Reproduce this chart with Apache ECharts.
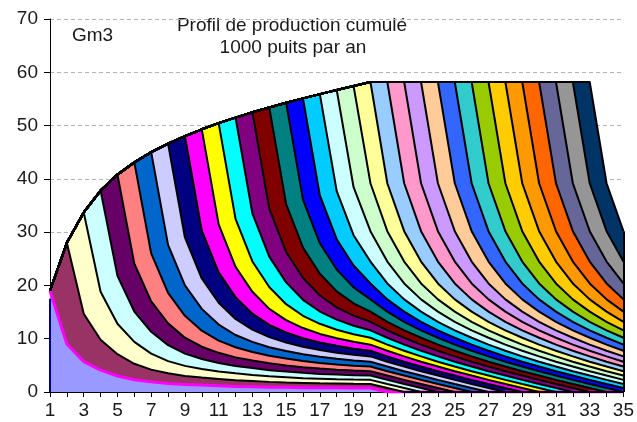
<!DOCTYPE html>
<html>
<head>
<meta charset="utf-8">
<script src="https://cdn.jsdelivr.net/npm/echarts@6/dist/echarts.min.js"></script>
<style>
  html, body { margin: 0; padding: 0; background: #fff; }
  #chart { width: 637px; height: 422px; }
</style>
</head>
<body>
<div id="chart"></div>
<script>
// Years on the horizontal axis
const years = [1, 2, 3, 4, 5, 6, 7, 8, 9, 10, 11, 12, 13, 14, 15, 16, 17, 18, 19, 20,
               21, 22, 23, 24, 25, 26, 27, 28, 29, 30, 31, 32, 33, 34, 35];
// Yearly output of one batch of 1000 wells, by age of the batch (Gm3)
const ageProfile = [19, 9, 5.7, 4.1, 3.0, 2.3, 1.9, 1.6, 1.4, 1.3,
                    1.15, 1.05, 1.0, 0.9, 0.88, 0.82, 0.8, 0.78, 0.75, 0.75];
// First production year of each batch
const startYears = [1, 2, 3, 4, 5, 6, 7, 8, 9, 10, 11, 12, 13, 14, 15, 16, 17,
                    18, 19, 20, 21, 22, 23, 24, 25, 26, 27, 28, 29, 30, 31, 32, 33];
const yTicks = [0, 10, 20, 30, 40, 50, 60, 70];

// Fill colours, one per batch
const palette = ['#9999FF', '#993366', '#FFFFCC', '#CCFFFF', '#660066', '#FF8080', '#0066CC',
  '#CCCCFF', '#000080', '#FF00FF', '#FFFF00', '#00FFFF', '#800080', '#800000', '#008080',
  '#0000FF', '#00CCFF', '#CCFFFF', '#CCFFCC', '#FFFF99', '#99CCFF', '#FF99CC', '#CC99FF',
  '#FFCC99', '#3366FF', '#33CCCC', '#99CC00', '#FFCC00', '#FF9900', '#FF6600', '#666699',
  '#969696', '#003366'];

function batchValues(start) {
  return years.map(y => {
    const age = y - start;
    return age >= 0 && age < ageProfile.length ? ageProfile[age] : 0;
  });
}

const batches = startYears.map(batchValues);
const lastTotal = batches.reduce((s, b) => s + b[b.length - 1], 0);
const firstTotal = batches.reduce((s, b) => s + b[0], 0);

const FONT = 'Liberation Sans, Arial, sans-serif';
const series = [];

// Filled bands
batches.forEach((data, i) => {
  series.push({
    type: 'line', stack: 'fill', data, z: 2,
    symbol: 'none', showSymbol: false,
    lineStyle: { opacity: 0, width: 0 },
    areaStyle: { color: palette[i], opacity: 1 },
    silent: true
  });
});

// Outlines drawn above all fills
batches.forEach((data, i) => {
  const s = {
    type: 'line', stack: 'edge', data, z: 3,
    symbol: 'none', showSymbol: false,
    lineStyle: { color: i === 0 ? '#FF00FF' : '#000', width: i === 0 ? 3 : 2 },
    silent: true
  };
  if (i === batches.length - 1) {
    s.markLine = {
      silent: true, symbol: 'none', label: { show: false },
      lineStyle: { color: '#000', width: 2, type: 'solid' },
      data: [[{ coord: ['35', 0] }, { coord: ['35', lastTotal] }]]
    };
  }
  if (i === 0) {
    s.markLine = {
      silent: true, symbol: 'none', label: { show: false },
      lineStyle: { color: '#000080', width: 2, type: 'solid' },
      data: [[{ coord: ['1', 0] }, { coord: ['1', firstTotal - 1.5] }]]
    };
  }
  series.push(s);
});

const chart = echarts.init(document.getElementById('chart'), null, { renderer: 'canvas' });
chart.setOption({
  animation: false,
  backgroundColor: '#fff',
  grid: { left: 50, right: 11, top: 19, bottom: 30, containLabel: false },
  xAxis: {
    type: 'category', data: years.map(String), boundaryGap: false,
    axisLine: { lineStyle: { color: '#000', width: 1 } },
    axisTick: { show: true, interval: 0, length: 5, lineStyle: { color: '#000' } },
    axisLabel: { interval: 1, color: '#1a1a1a', fontSize: 19, fontFamily: FONT, margin: 9 },
    splitLine: { show: false }
  },
  yAxis: {
    type: 'value', min: yTicks[0], max: yTicks[yTicks.length - 1], interval: 10,
    axisLine: { show: true, lineStyle: { color: '#000', width: 1 } },
    axisTick: { show: true, length: 6, lineStyle: { color: '#000' } },
    axisLabel: { color: '#1a1a1a', fontSize: 19, fontFamily: FONT, margin: 12 },
    splitLine: { show: true, lineStyle: { color: '#b4b4b4', type: [4, 3], width: 1 } }
  },
  graphic: [
    { type: 'text', left: 72, top: 26,
      style: { text: 'Gm3', font: '19px ' + FONT, fill: '#1a1a1a' } },
    { type: 'text', x: 292, y: 16,
      style: { text: 'Profil de production cumulé', font: '19px ' + FONT, fill: '#1a1a1a', textAlign: 'center' } },
    { type: 'text', x: 293, y: 38,
      style: { text: '1000 puits par an', font: '19px ' + FONT, fill: '#1a1a1a', textAlign: 'center' } }
  ],
  series
});
</script>
</body>
</html>
